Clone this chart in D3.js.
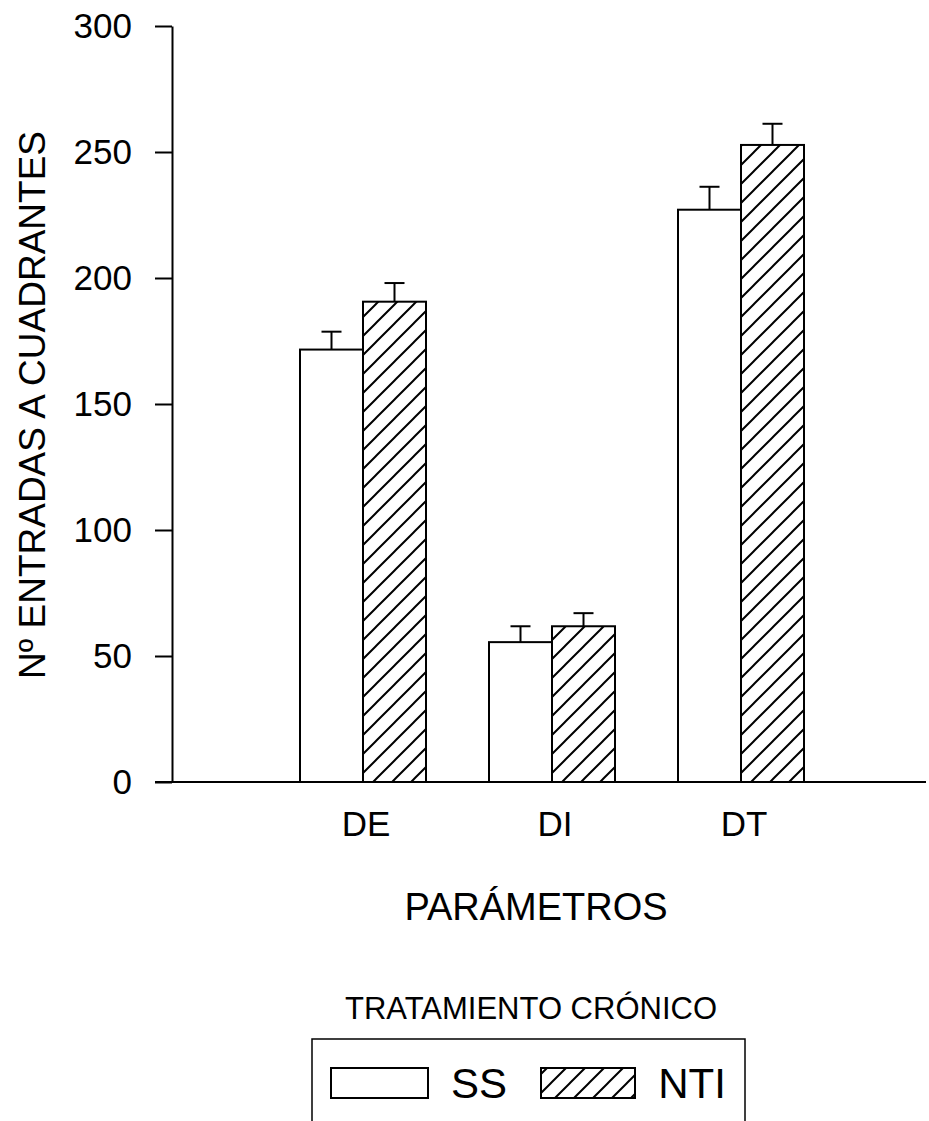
<!DOCTYPE html>
<html>
<head>
<meta charset="utf-8">
<script src="https://cdn.jsdelivr.net/npm/d3@7"></script>
<style>
  html, body { margin: 0; padding: 0; background: #fff; }
  svg { display: block; font-family: "Liberation Sans", Arial, Helvetica, sans-serif; }
</style>
</head>
<body>
<svg id="chart" width="929" height="1121"></svg>
<script>
const categories = ["DE", "DI", "DT"];
const seriesNames = ["SS", "NTI"];
const ssValues = [171.6, 55.5, 227.1];
const ssErrors = [7.1, 6.3, 9.1];
const ntiValues = [190.6, 61.8, 252.8];
const ntiErrors = [7.4, 5.2, 8.4];
const yTicks = [0, 50, 100, 150, 200, 250, 300];
const yTitle = "Nº ENTRADAS A CUADRANTES";
const xTitle = "PARÁMETROS";
const legendTitle = "TRATAMIENTO CRÓNICO";

const svg = d3.select("#chart");

// hatch pattern
const defs = svg.append("defs");
const pat = defs.append("pattern")
  .attr("id", "hatch")
  .attr("patternUnits", "userSpaceOnUse")
  .attr("width", 19).attr("height", 19);
pat.append("rect").attr("width", 19).attr("height", 19).attr("fill", "#fff");
pat.append("path")
  .attr("d", "M-2,21 L21,-2 M-2,2 L2,-2 M17,21 L21,17")
  .attr("stroke", "#000").attr("stroke-width", 2);

const y = d3.scaleLinear().domain([0, 300]).range([782, 26]);
const x = d3.scaleBand().domain(categories).range([268.5, 835.5])
  .paddingInner(1/3).paddingOuter(1/6);
const xs = d3.scaleBand().domain(seriesNames).range([0, x.bandwidth()]);

const data = categories.map((c, i) => ({
  cat: c,
  vals: [
    { s: "SS", v: ssValues[i], e: ssErrors[i] },
    { s: "NTI", v: ntiValues[i], e: ntiErrors[i] }
  ]
}));

// x axis baseline
svg.append("line")
  .attr("x1", 155).attr("x2", 926)
  .attr("y1", y(0)).attr("y2", y(0))
  .attr("stroke", "#000").attr("stroke-width", 2);

// y axis
const yAxis = d3.axisLeft(y).tickValues(yTicks).tickSize(17).tickPadding(23).tickSizeOuter(0);
const gy = svg.append("g").attr("transform", "translate(172,0)").call(yAxis);
gy.select(".domain").attr("stroke", "#000").attr("stroke-width", 2);
gy.selectAll(".tick line").attr("stroke", "#000").attr("stroke-width", 2);
gy.selectAll(".tick text")
  .attr("font-size", 35).attr("fill", "#000")
  .attr("font-family", "'Liberation Sans', Arial, sans-serif");

// bars
const groups = svg.append("g").selectAll("g").data(data).join("g")
  .attr("transform", d => `translate(${x(d.cat)},0)`);

groups.selectAll("line.err").data(d => d.vals).join("line")
  .attr("class", "err")
  .attr("x1", d => xs(d.s) + xs.bandwidth() / 2)
  .attr("x2", d => xs(d.s) + xs.bandwidth() / 2)
  .attr("y1", d => y(d.v)).attr("y2", d => y(d.v + d.e))
  .attr("stroke", "#000").attr("stroke-width", 2);
groups.selectAll("line.cap").data(d => d.vals).join("line")
  .attr("class", "cap")
  .attr("x1", d => xs(d.s) + xs.bandwidth() / 2 - 10)
  .attr("x2", d => xs(d.s) + xs.bandwidth() / 2 + 10)
  .attr("y1", d => y(d.v + d.e)).attr("y2", d => y(d.v + d.e))
  .attr("stroke", "#000").attr("stroke-width", 2);

groups.selectAll("rect").data(d => d.vals).join("rect")
  .attr("x", d => xs(d.s))
  .attr("width", xs.bandwidth())
  .attr("y", d => y(d.v))
  .attr("height", d => y(0) - y(d.v))
  .attr("fill", d => d.s === "SS" ? "#fff" : "url(#hatch)")
  .attr("stroke", "#000").attr("stroke-width", 2);

// x category labels
svg.append("g").selectAll("text").data(categories).join("text")
  .attr("x", d => x(d) + x.bandwidth() / 2 + 3)
  .attr("y", 836)
  .attr("text-anchor", "middle")
  .attr("font-size", 35)
  .attr("fill", "#000")
  .text(d => d);

// titles
svg.append("text")
  .attr("x", 536).attr("y", 920)
  .attr("text-anchor", "middle")
  .attr("font-size", 38).attr("fill", "#000")
  .text(xTitle);

svg.append("text")
  .attr("transform", "translate(45,405) rotate(-90)")
  .attr("text-anchor", "middle")
  .attr("font-size", 37).attr("fill", "#000")
  .text(yTitle);

// legend
svg.append("text")
  .attr("x", 531).attr("y", 1019)
  .attr("text-anchor", "middle")
  .attr("font-size", 31).attr("fill", "#000")
  .text(legendTitle);

svg.append("rect")
  .attr("x", 312).attr("y", 1039)
  .attr("width", 433).attr("height", 120)
  .attr("fill", "none").attr("stroke", "#000").attr("stroke-width", 1.5);

const legendItems = [
  { s: seriesNames[0], sx: 331, sw: 97, tx: 479 },
  { s: seriesNames[1], sx: 541, sw: 94, tx: 692 }
];
const lg = svg.append("g").selectAll("g").data(legendItems).join("g");
lg.append("rect")
  .attr("x", d => d.sx).attr("y", 1068)
  .attr("width", d => d.sw).attr("height", 30)
  .attr("fill", d => d.s === "SS" ? "#fff" : "url(#hatch)")
  .attr("stroke", "#000").attr("stroke-width", 2);
lg.append("text")
  .attr("x", d => d.tx).attr("y", 1098)
  .attr("text-anchor", "middle")
  .attr("font-size", 42).attr("fill", "#000")
  .text(d => d.s);
</script>
</body>
</html>
